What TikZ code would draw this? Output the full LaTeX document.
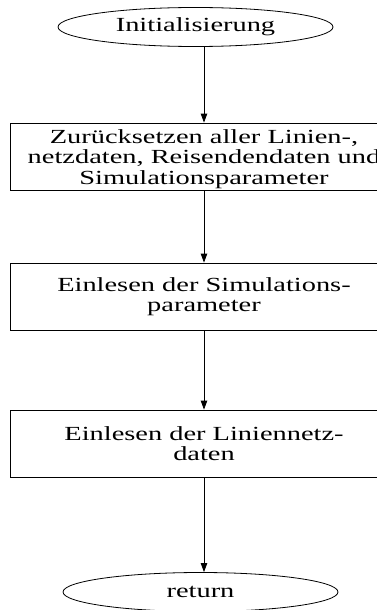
\documentclass[tikz,border=0pt]{standalone}
\usepackage{fontspec}
\setmainfont{Liberation Serif}[FakeStretch=1.42]
\usetikzlibrary{arrows.meta,shapes.geometric}
\begin{document}
\begin{tikzpicture}[x=1pt,y=-1pt,
  every node/.style={font=\fontsize{20}{20.5}\selectfont, align=center},
  term/.style={draw, ellipse, minimum width=275pt, minimum height=39pt, inner sep=0pt, line width=0.8pt},
  proc/.style={draw, rectangle, minimum width=388pt, minimum height=67pt, inner sep=0pt, line width=0.8pt},
  arr/.style={-{Triangle[length=9pt,width=6.5pt]}, line width=0.8pt}]
\useasboundingbox (0,0) rectangle (377,610);
\clip (0,0) rectangle (377,610);
\node[term] (init) at (195.5,27) {Initialisierung};
\node[proc] (b1) at (204,156.5) {};
\node (t1) at (204,159) {Zurücksetzen aller Linien-,\\netzdaten, Reisendendaten und\\Simulationsparameter};
\node[proc] (b2) at (204,296.5) {Einlesen der Simulations-\\parameter};
\node[proc] (b3) at (204,443.5) {Einlesen der Liniennetz-\\daten};
\node[term] (ret) at (200.5,592) {return};
\draw[arr] (b1.north |- init.south) -- (b1.north);
\draw[arr] (b1.south) -- (b2.north);
\draw[arr] (b2.south) -- (b3.north);
\draw[arr] (b3.south) -- (b3.south |- ret.north);
\end{tikzpicture}
\end{document}
